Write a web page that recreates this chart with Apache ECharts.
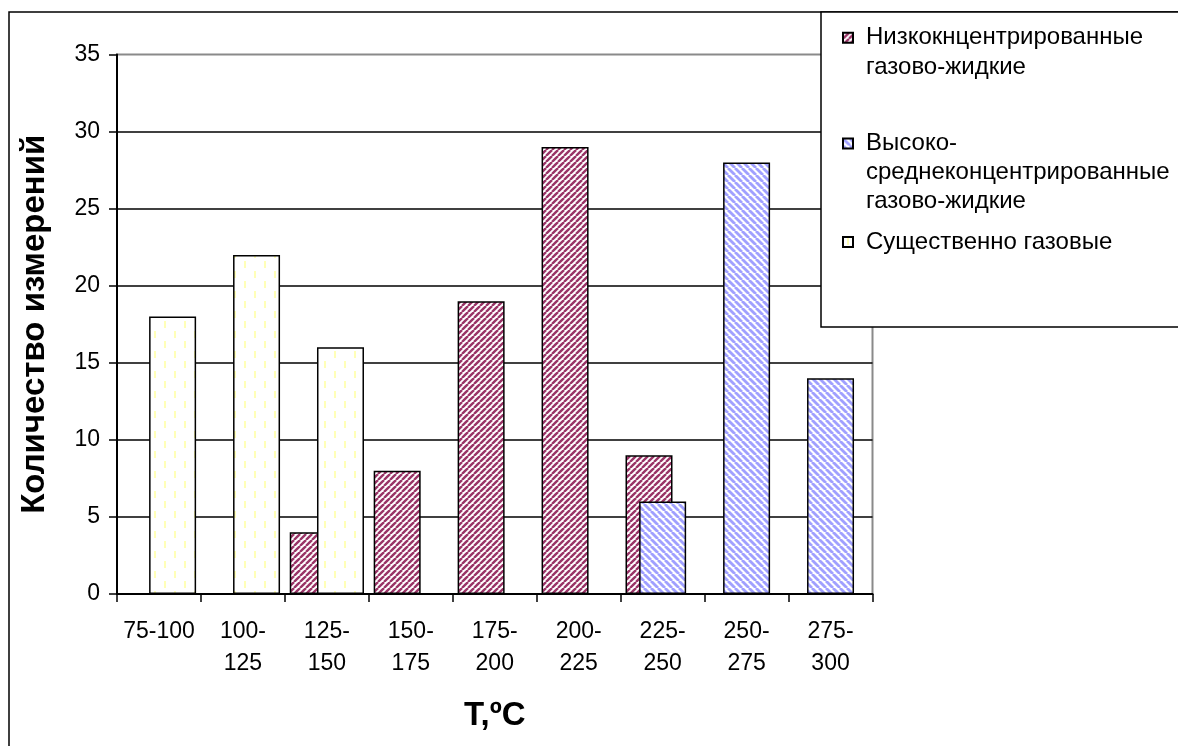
<!DOCTYPE html>
<html>
<head>
<meta charset="utf-8">
<script src="https://cdn.jsdelivr.net/npm/echarts@6/dist/echarts.min.js"></script>
<style>html,body{margin:0;padding:0;background:#fff}#c{width:1178px;height:746px}</style>
</head>
<body>
<div id="c"></div>
<script>
// ---- data ----
var categories = ['75-100','100-125','125-150','150-175','175-200','200-225','225-250','250-275','275-300'];
var seriesNames = ['Низкокнцентрированные\nгазово-жидкие', 'Высоко-\nсреднеконцентрированные\nгазово-жидкие', 'Существенно газовые'];
var lowConc   = [null, null, 4, 8, 19, 29, 9, null, null];
var highConc  = [null, null, null, null, null, null, 6, 28, 14];
var gaseous   = [18, 22, 16, null, null, null, null, null, null];
var yTicks = {min: 0, max: 35, interval: 5};
var xTitle = 'T,ºC';
var yTitle = 'Количество измерений';

// ---- patterns ----
function stripes(period, color, dir, lw) {
  var c = document.createElement('canvas');
  c.width = period; c.height = period;
  var g = c.getContext('2d');
  g.fillStyle = '#fff'; g.fillRect(0, 0, period, period);
  g.strokeStyle = color; g.lineWidth = lw;
  for (var k = -2; k <= 2; k++) {
    var x = k * period;
    g.beginPath();
    if (dir === '/') { g.moveTo(x, period); g.lineTo(x + period, 0); }
    else { g.moveTo(x, 0); g.lineTo(x + period, period); }
    g.stroke();
  }
  return c;
}
function dashes() {
  var c = document.createElement('canvas');
  c.width = 20; c.height = 20;
  var g = c.getContext('2d');
  g.fillStyle = '#fff'; g.fillRect(0, 0, 20, 20);
  g.fillStyle = '#ffffb8';
  g.fillRect(4, 1, 2, 7);
  g.fillRect(14, 11, 2, 7);
  return c;
}
var redPat = {image: stripes(6, '#993366', '/', 2.4), repeat: 'repeat'};
var bluePat = {image: stripes(7, '#a0a0ff', '\\', 2.8), repeat: 'repeat'};
var yelPat = {image: dashes(), repeat: 'repeat'};

var FONT = 'Arial, "Liberation Sans", sans-serif';
var chart = echarts.init(document.getElementById('c'), null, {renderer: 'canvas'});

function legendFor(idx, top, lh) {
  var lines = seriesNames[idx].split('\n').length;
  return {
    data: [seriesNames[idx]],
    left: 842, top: top, padding: 0,
    orient: 'vertical',
    icon: 'rect', itemWidth: 10, itemHeight: 10,
    selectedMode: false,
    formatter: function (n) { return new Array(lines).join('\n') + n; },
    textStyle: {fontFamily: FONT, fontSize: 24, color: '#000', lineHeight: lh, padding: [0, 0, 0, 8]},
    z: 10
  };
}

var barStyle = function (pat) { return {color: pat, borderColor: '#000', borderWidth: 1.5}; };

chart.setOption({
  animation: false,
  backgroundColor: '#fff',
  grid: {left: 117, right: 305.5, top: 54.5, bottom: 152, show: true, borderColor: '#8a8a8a', borderWidth: 2, backgroundColor: 'transparent'},
  graphic: [
    {type: 'rect', shape: {x: 9, y: 12, width: 1300, height: 900}, style: {fill: 'none', stroke: '#000', lineWidth: 1.5}, z: 0, silent: true},
    {type: 'rect', shape: {x: 821, y: 12, width: 500, height: 315}, style: {fill: '#fff', stroke: '#000', lineWidth: 1.5}, z: 8, silent: true}
  ],
  legend: [
    legendFor(0, -7.3, 30),
    legendFor(1, 71, 29),
    legendFor(2, 227.5, 29)
  ],
  xAxis: {
    type: 'category', data: categories,
    name: xTitle, nameLocation: 'middle', nameGap: 105,
    nameTextStyle: {fontFamily: FONT, fontSize: 33, fontWeight: 'bold', color: '#000'},
    axisLine: {lineStyle: {color: '#000', width: 2}},
    axisTick: {show: true, interval: 0, length: 8, lineStyle: {color: '#000', width: 1.5}},
    axisLabel: {
      interval: 0,
      fontFamily: FONT, fontSize: 23, color: '#000', lineHeight: 32, margin: 22,
      formatter: function (v) { return v.length > 6 ? v.replace('-', '-\n') : v; }
    },
    splitLine: {show: false}
  },
  yAxis: {
    type: 'value', min: yTicks.min, max: yTicks.max, interval: yTicks.interval,
    name: yTitle, nameLocation: 'middle', nameGap: 66,
    nameTextStyle: {fontFamily: FONT, fontSize: 33, fontWeight: 'bold', color: '#000'},
    axisLine: {show: true, lineStyle: {color: '#000', width: 2}},
    axisTick: {show: true, length: 8, lineStyle: {color: '#000', width: 1.5}},
    axisLabel: {fontFamily: FONT, fontSize: 23, color: '#000', margin: 17},
    splitLine: {show: true, showMinLine: false, showMaxLine: false, lineStyle: {color: '#000', width: 1.5}}
  },
  series: [
    {name: seriesNames[0], type: 'bar', data: lowConc, barWidth: 47, barGap: '-71%', barCategoryGap: '10%', itemStyle: barStyle(redPat)},
    {name: seriesNames[1], type: 'bar', data: highConc, barWidth: 47, barGap: '-71%', itemStyle: barStyle(bluePat)},
    {name: seriesNames[2], type: 'bar', data: gaseous, barWidth: 47, barGap: '-71%', itemStyle: barStyle(yelPat)}
  ]
});
</script>
</body>
</html>
